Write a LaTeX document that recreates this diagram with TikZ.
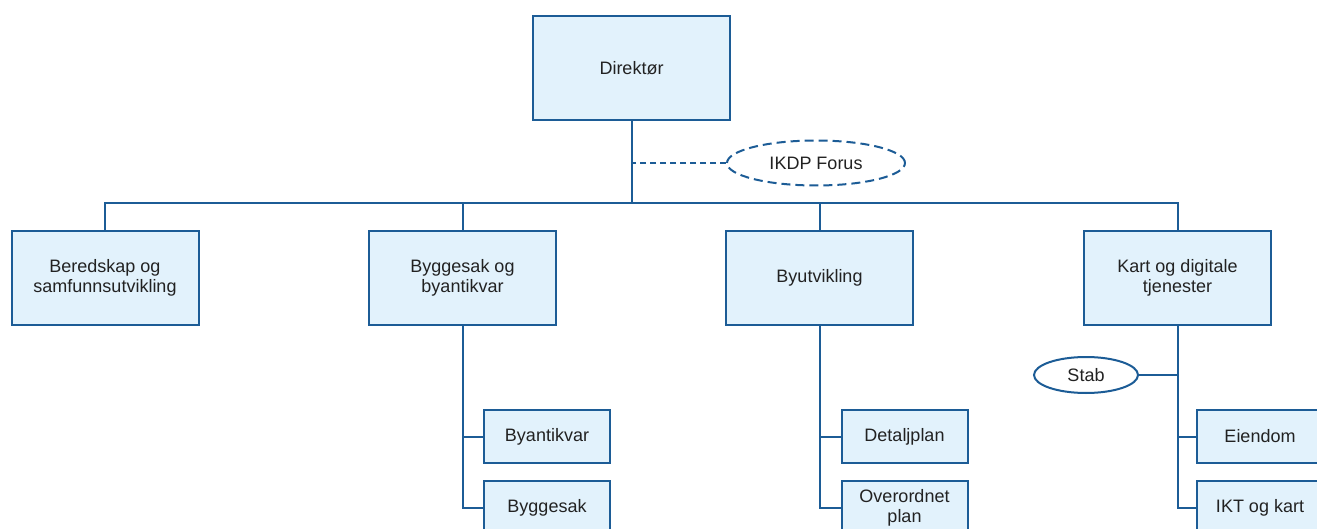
\documentclass[tikz,border=0pt]{standalone}
\usepackage{fontspec}
\setmainfont{Liberation Sans}
\usetikzlibrary{shapes.geometric}
\definecolor{orgline}{RGB}{28,92,150}
\definecolor{orgfill}{RGB}{226,242,252}
\definecolor{orgtext}{RGB}{34,34,34}
\tikzset{
  unit/.style={draw=orgline,fill=orgfill,line width=2pt,text=orgtext,align=center,
    inner sep=0pt,font=\fontsize{18}{20}\selectfont},
  bigunit/.style={unit,minimum width=187pt,minimum height=94pt},
  subunit/.style={unit,minimum width=126pt,minimum height=53pt},
  forum/.style={ellipse,draw=orgline,fill=white,line width=2pt,text=orgtext,inner sep=0pt,
    font=\fontsize{18}{20}\selectfont},
  link/.style={draw=orgline,line width=2pt}
}
\begin{document}
\begin{tikzpicture}[x=1pt,y=-1pt]
\useasboundingbox (0,0) rectangle (1317,529);
\node[unit,minimum width=197pt,minimum height=104pt] (dir) at (631.5,68) {Direktør};
\node[forum,dashed,dash pattern=on 9pt off 5pt,minimum width=178pt,minimum height=45pt] (ikdp) at (816,163) {IKDP Forus};
\node[bigunit] (bered) at (105,278) {Beredskap og\\samfunnsutvikling};
\node[bigunit] (bygg) at (462.5,278) {Byggesak og\\byantikvar};
\node[bigunit] (byut) at (819.5,278) {Byutvikling};
\node[bigunit] (kart) at (1177.5,278) {Kart og digitale\\tjenester};
\node[subunit] (byant) at (547,436.5) {Byantikvar};
\node[subunit] (byggs) at (547,507.5) {Byggesak};
\node[subunit] (detalj) at (904.5,436.5) {Detaljplan};
\node[subunit] (overord) at (904.5,507.5) {Overordnet\\plan};
\node[subunit] (eiendom) at (1260,436.5) {Eiendom};
\node[subunit] (ikt) at (1260,507.5) {IKT og kart};
\node[forum,minimum width=104pt,minimum height=36pt] (stab) at (1086,375) {Stab};
\coordinate (bus) at (631.5,203);
\draw[link] (dir.south) -- (bus);
\draw[link,dash pattern=on 6pt off 4pt] (ikdp.west) -- (ikdp.west -| dir.south);
\foreach \n in {bered,bygg,byut,kart} \draw[link] (bus) -| (\n.north);
\draw[link] (bygg.south) |- (byant.west);
\draw[link] (bygg.south) |- (byggs.west);
\draw[link] (byut.south) |- (detalj.west);
\draw[link] (byut.south) |- (overord.west);
\draw[link] (kart.south) |- (eiendom.west);
\draw[link] (kart.south) |- (ikt.west);
\draw[link] (stab.east) -- (stab.east -| kart.south);
\end{tikzpicture}
\end{document}
